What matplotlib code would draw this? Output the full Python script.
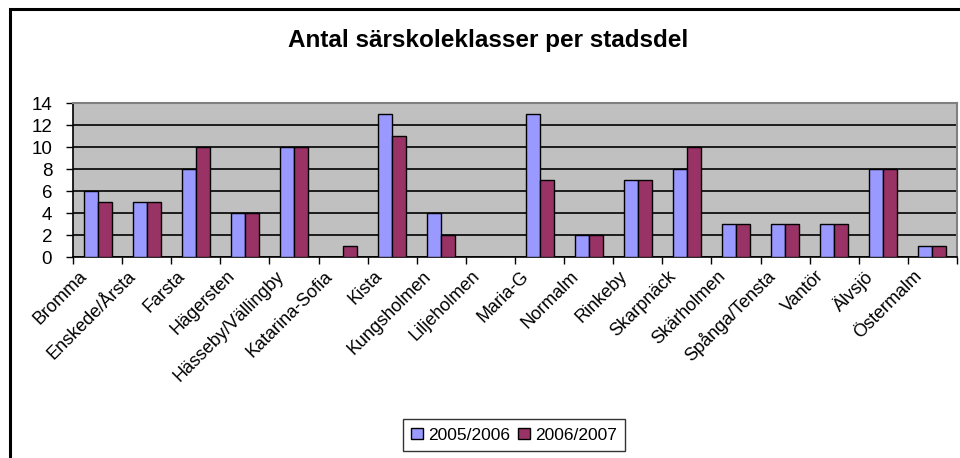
import numpy as np
import matplotlib.pyplot as plt
import matplotlib as mpl
import matplotlib.transforms as mtransforms
from matplotlib.patches import Rectangle

mpl.rc('font', family=['Liberation Sans', 'DejaVu Sans'])

stadsdelar = ['Bromma', 'Enskede/Årsta', 'Farsta', 'Hägersten', 'Hässeby/Vällingby',
              'Katarina-Sofia', 'Kista', 'Kungsholmen', 'Liljeholmen', 'Maria-G',
              'Normalm', 'Rinkeby', 'Skarpnäck', 'Skärholmen', 'Spånga/Tensta',
              'Vantör', 'Älvsjö', 'Östermalm']
ar_2005 = [6, 5, 8, 4, 10, 0, 13, 4, 0, 13, 2, 7, 8, 3, 3, 3, 8, 1]
ar_2006 = [5, 5, 10, 4, 10, 1, 11, 2, 0, 7, 2, 7, 10, 3, 3, 3, 8, 1]
serier = ['2005/2006', '2006/2007']

W, H = 960, 458
fig = plt.figure(figsize=(W/100, H/100), dpi=100)

# outer chart border (cut off at right and bottom)
fig.patches.append(Rectangle((10/W, -0.1), 1.2, (H-9)/H + 0.1, transform=fig.transFigure,
                             fill=False, edgecolor='black', lw=2.2))

ax = fig.add_axes([73/W, 1-257/H, (957-73)/W, (257-103)/H])
ax.set_facecolor('#C0C0C0')

x = np.arange(len(stadsdelar))
bw = 1/3.5
ax.bar(x - bw/2, ar_2005, bw, color='#9999FF', edgecolor='black', lw=1, label=serier[0], zorder=3)
ax.bar(x + bw/2, ar_2006, bw, color='#993366', edgecolor='black', lw=1, label=serier[1], zorder=3)

ax.set_xlim(-0.5, len(stadsdelar) - 0.5)
ax.set_ylim(0, 14)
ax.set_yticks(range(0, 15, 2))
ax.yaxis.grid(True, color='black', lw=1.2, zorder=1)
ax.set_axisbelow(True)

ax.set_xticks(x)
ax.set_xticks(np.arange(-0.5, len(stadsdelar)), minor=True)
ax.tick_params(axis='x', which='major', length=0, pad=12)
ax.tick_params(axis='x', which='minor', length=5, width=1, direction='out')
ax.tick_params(axis='y', length=5, width=1, labelsize=13.5, pad=10)

ax.set_xticklabels(stadsdelar, rotation=45, ha='right', va='center', rotation_mode='anchor',
                   fontsize=13)
# nudge labels left so their ends sit left of the category centre, like Excel
shift = mtransforms.ScaledTranslation(-13/100, 0, fig.dpi_scale_trans)
for lbl in ax.get_xticklabels():
    lbl.set_transform(lbl.get_transform() + shift)

for s in ['top', 'right']:
    ax.spines[s].set_color('#808080')
    ax.spines[s].set_linewidth(1.5)
ax.spines['left'].set_linewidth(1.2)
ax.spines['bottom'].set_linewidth(1.2)

fig.text(488/W, 1-40/H, 'Antal särskoleklasser per stadsdel', ha='center', va='center',
         fontsize=17.5, fontweight='bold')

leg = fig.legend(loc='center', bbox_to_anchor=(514/W, 1-435/H), ncol=2, fontsize=12.5,
                 frameon=True, fancybox=False, edgecolor='black', handlelength=0.65,
                 handleheight=0.65, handletextpad=0.3, columnspacing=0.5, borderpad=0.5)
leg.get_frame().set_linewidth(1)

fig.savefig('out.png', dpi=100)
